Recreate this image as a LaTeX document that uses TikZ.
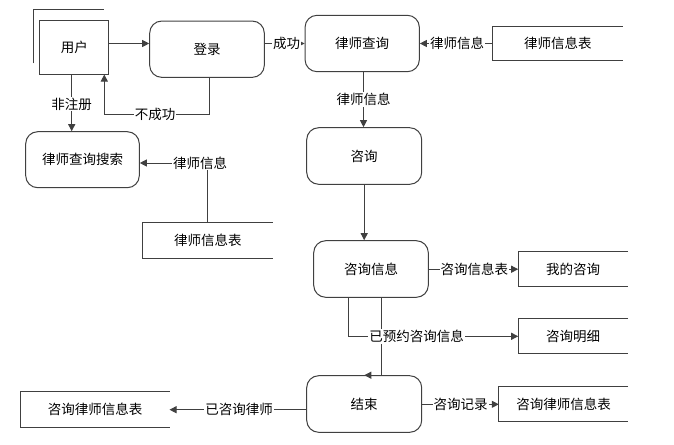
\documentclass[tikz,border=0pt]{standalone}
\usepackage{fontspec}
\newfontfamily\cjk{Noto Sans CJK SC}
\usetikzlibrary{arrows.meta}
\begin{document}
\begin{tikzpicture}[x=1pt,y=-1pt,
  line width=1pt,
  every node/.style={font=\cjk\fontsize{13.5}{16}\selectfont, text=black},
  rbox/.style={draw=black!75, rounded corners=12pt, inner sep=0pt},
  ebox/.style={draw=black!75, inner sep=0pt},
  dstore/.style={inner sep=0pt},
  arr/.style={draw=black!75, -{Triangle[length=7pt,width=7pt]}},
  ln/.style={draw=black!75},
  lbl/.style={fill=white, inner sep=1pt},
]
\useasboundingbox (0,0) rectangle (674,444);

% external entity with shadow lines
\node[ebox, minimum width=68.7pt, minimum height=53pt] (user) at (74.3,47.5) {用户};
\draw[ln] (33.3,63.3) -- (33.3,9.3) -- (104.3,9.3);

% processes
\node[rbox, minimum width=114.6pt, minimum height=56.3pt] (login) at (207,49.2) {登录};
\node[rbox, minimum width=114.3pt, minimum height=56.4pt] (lsq) at (362.2,43.5) {律师查询};
\node[rbox, minimum width=115pt, minimum height=56.6pt] (zx) at (364.2,156) {咨询};
\node[rbox, minimum width=114.6pt, minimum height=56.6pt] (zxxx) at (371,269) {咨询信息};
\node[rbox, minimum width=115pt, minimum height=56.6pt] (js) at (364.2,404) {结束};
\node[rbox, minimum width=113.6pt, minimum height=56pt] (ss) at (82.5,159.7) {律师查询搜索};

% data stores (open on the right)
\node[dstore, minimum width=129pt, minimum height=33.6pt] (ds1) at (557.8,43.5) {律师信息表};
\node[dstore, minimum width=129pt, minimum height=34.4pt] (ds2) at (207.8,240.5) {律师信息表};
\node[dstore, minimum width=109pt, minimum height=33.7pt] (ds3) at (573.2,269.2) {我的咨询};
\node[dstore, minimum width=109pt, minimum height=34pt] (ds4) at (573.2,336.3) {咨询明细};
\node[dstore, minimum width=128.4pt, minimum height=34pt] (ds5) at (563.5,404.3) {咨询律师信息表};
\node[dstore, minimum width=148pt, minimum height=34.7pt] (ds6) at (95,409.7) {咨询律师信息表};
\foreach \d in {ds1,ds2,ds3,ds4,ds5,ds6}
  \draw[ln] (\d.north east) -- (\d.north west) -- (\d.south west) -- (\d.south east);

% helper coordinates
\coordinate (yA) at (0,43.5);
\coordinate (nb) at (104.3,114);
\coordinate (xR) at (71.7,0);
\coordinate (yK) at (0,163);
\coordinate (xL) at (363.5,0);
\coordinate (xP) at (348,0);
\coordinate (xQ) at (381.7,0);
\coordinate (xJ) at (364.3,0);

% connectors
\draw[arr] (user.east|-yA) -- (login.west|-yA);
\draw[arr] (login.east|-yA) -- (lsq.west);
\draw[arr] ([xshift=2pt]login.south) |- (nb) -- (user.south -| nb);
\draw[arr] (user.south -| xR) -- (ss.north -| xR);
\draw[arr] (ds2.north) |- (ss.east|-yK);
\draw[arr] (ds1.west) -- (lsq.east);
\draw[arr] (lsq.south -| xL) -- (zx.north -| xL);
\draw[arr] (zx.south) -- (zx.south |- zxxx.north);
\draw[arr] (zxxx.east |- ds3) -- (ds3.west);
\draw[arr] (zxxx.south -| xP) |- (ds4.west);
\draw[arr] (zxxx.south -| xQ) |- (js.north -| xJ);
\draw[arr] (js.east |- ds5) -- (ds5.west);
\draw[arr] (js.west |- ds6) -- (ds6.east);

% labels
\node[lbl] (l1) at (286.5,43.5) {成功};
\node[lbl] (l2) at (155,114) {不成功};
\node[lbl] (l3) at (71.7,104) {非注册};
\node[lbl] (l4) at (200,163) {律师信息};
\node[lbl] (l5) at (457,43.5) {律师信息};
\node[lbl] (l6) at (363.5,99.3) {律师信息};
\node[lbl] (l7) at (474.3,269.2) {咨询信息表};
\node[lbl] (l8) at (416.7,336.3) {已预约咨询信息};
\node[lbl] (l9) at (460.5,404.3) {咨询记录};
\node[lbl] (l10) at (239,409.7) {已咨询律师};
\end{tikzpicture}
\end{document}
